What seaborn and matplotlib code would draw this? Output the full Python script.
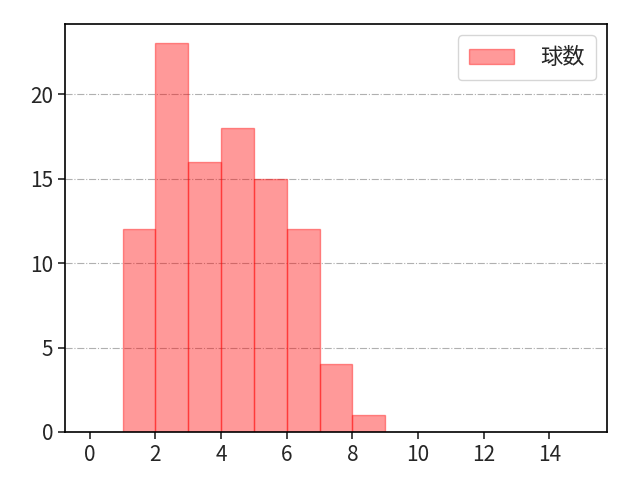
import matplotlib
matplotlib.use("Agg")
import matplotlib.pyplot as plt
import seaborn as sns
import numpy as np

bin_left = [0, 1, 2, 3, 4, 5, 6, 7, 8, 9, 10, 11, 12, 13, 14]
counts = [0, 12, 23, 16, 18, 15, 12, 4, 1, 0, 0, 0, 0, 0, 0]
edges = list(range(0, 16))
label = "球数"

sns.set_style("ticks")
plt.rcParams['font.family'] = ['Noto Sans CJK JP', 'DejaVu Sans']

fig = plt.figure(figsize=(6.4, 4.8), dpi=100)
ax = fig.add_axes([0.1016, 0.1, 0.8468, 0.85])

centers = [b + 0.5 for b in bin_left]
sns.histplot(x=centers, weights=counts, bins=edges, ax=ax,
             color="red", alpha=0.4, edgecolor="red", linewidth=1,
             label=label)
for p in ax.patches:
    p.set_alpha(0.4)
    if p.get_height() == 0:
        p.set_linewidth(0)
ax.set_xlim(-0.75, 15.75)
ax.set_ylim(0, 24.15)
ax.set_xticks(range(0, 15, 2))
ax.set_yticks([0, 5, 10, 15, 20])
ax.set_xlabel("")
ax.set_ylabel("")
ax.yaxis.grid(True, linestyle="-.", color="#b0b0b0", linewidth=0.8)
ax.set_axisbelow(True)
ax.tick_params(labelsize=15, length=5, width=1.2)
for s in ax.spines.values():
    s.set_visible(True)
    s.set_color("black")
    s.set_linewidth(1.2)
h = plt.Rectangle((0, 0), 1, 1, facecolor="red", edgecolor="red", alpha=0.4, linewidth=1)
leg = ax.legend([h], [label], loc="upper right", fontsize=16, borderpad=0.5,
                handlelength=2.0, handletextpad=1.2)
fig.savefig("out.png", dpi=100)
